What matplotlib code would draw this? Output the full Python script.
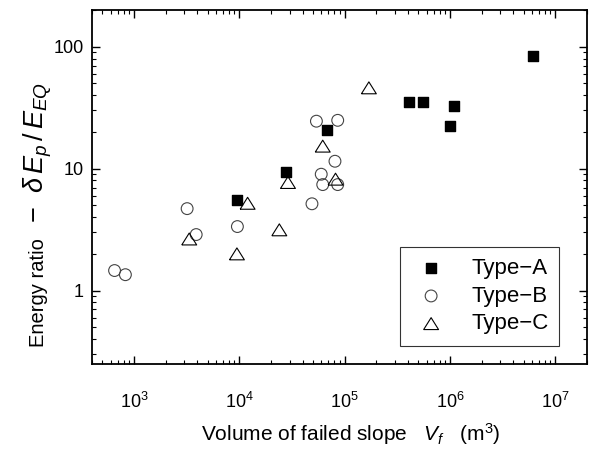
import matplotlib
matplotlib.use("Agg")
import matplotlib.pyplot as plt

plt.rcParams['font.family'] = ['Liberation Sans', 'DejaVu Sans']
plt.rcParams['mathtext.fontset'] = 'custom'
plt.rcParams['mathtext.rm'] = 'Liberation Sans'
plt.rcParams['mathtext.it'] = 'Liberation Sans:italic'

# Type-A (filled squares)
vol_a = [6.1e6, 4.1e5, 5.5e5, 1.1e6, 1.0e6, 6.8e4, 2.75e4, 9.5e3]
ratio_a = [84, 35, 35, 32.7, 22.3, 20.9, 9.3, 5.5]

# Type-B (open circles)
vol_b = [5.4e4, 8.6e4, 8.1e4, 6.0e4, 6.2e4, 8.6e4, 4.9e4, 3.2e3, 9.6e3, 3.9e3, 655, 830]
ratio_b = [24.5, 24.9, 11.5, 9.0, 7.4, 7.4, 5.15, 4.7, 3.35, 2.88, 1.46, 1.35]

# Type-C (open triangles)
vol_c = [1.7e5, 6.2e4, 8.2e4, 2.9e4, 1.2e4, 2.4e4, 3.35e3, 9.5e3]
ratio_c = [46, 15.3, 8.2, 7.7, 5.2, 3.15, 2.65, 2.0]

W, H = 592, 451
fig = plt.figure(figsize=(W / 100, H / 100), dpi=100)
ax = fig.add_axes([92 / W, 1 - 364 / H, 495 / W, 354 / H])

# slightly wide triangle, like the original
tri = [(-1.25, -1), (1.25, -1), (0, 1), (-1.25, -1)]

ax.scatter(vol_a, ratio_a, marker='s', s=58, c='black', label='Type\u2212A', zorder=3)
ax.scatter(vol_b, ratio_b, marker='o', s=72, facecolors='none', edgecolors='#444444',
           linewidths=0.8, label='Type\u2212B', zorder=3)
ax.scatter(vol_c, ratio_c, marker=tri, s=115, facecolors='none', edgecolors='black',
           linewidths=0.8, label='Type\u2212C', zorder=3)

ax.set_xscale('log')
ax.set_yscale('log')
ax.set_xlim(400, 2e7)
ax.set_ylim(0.25, 200)
ax.set_yticks([1, 10, 100])
ax.set_yticklabels(['1', '10', '100'])

ax.tick_params(which='both', direction='in', top=True, right=True, labelsize=13)
ax.tick_params(axis='x', which='major', pad=20)
ax.tick_params(axis='y', which='major', pad=6)
ax.tick_params(which='major', length=6, width=1)
ax.tick_params(which='minor', length=3, width=0.8)
for s in ax.spines.values():
    s.set_linewidth(1.3)

fig.text(351 / W, 1 - 441 / H, r'Volume of failed slope   $V_f$   (m$^3$)',
         fontsize=15, ha='center', va='baseline')

# y label: plain words + larger math part
fig.text(44 / W, 1 - 293 / H, 'Energy ratio', fontsize=14.5, rotation=90,
         rotation_mode='anchor', ha='center', va='baseline')
fig.text(44 / W, 1 - 152 / H, r'$-\ \ \delta\,E_p\,/\,E_{EQ}$', fontsize=19.5, rotation=90,
         rotation_mode='anchor', ha='center', va='baseline')

leg = ax.legend(loc='upper left', bbox_to_anchor=((400 - 92) / 495, (364 - 247) / 354),
                borderaxespad=0, fontsize=16, frameon=True, fancybox=False,
                edgecolor='black', handlelength=1.8, handletextpad=0.9,
                borderpad=0.5, labelspacing=0.3)
leg.get_frame().set_linewidth(0.8)

fig.savefig('out.png', dpi=100)
